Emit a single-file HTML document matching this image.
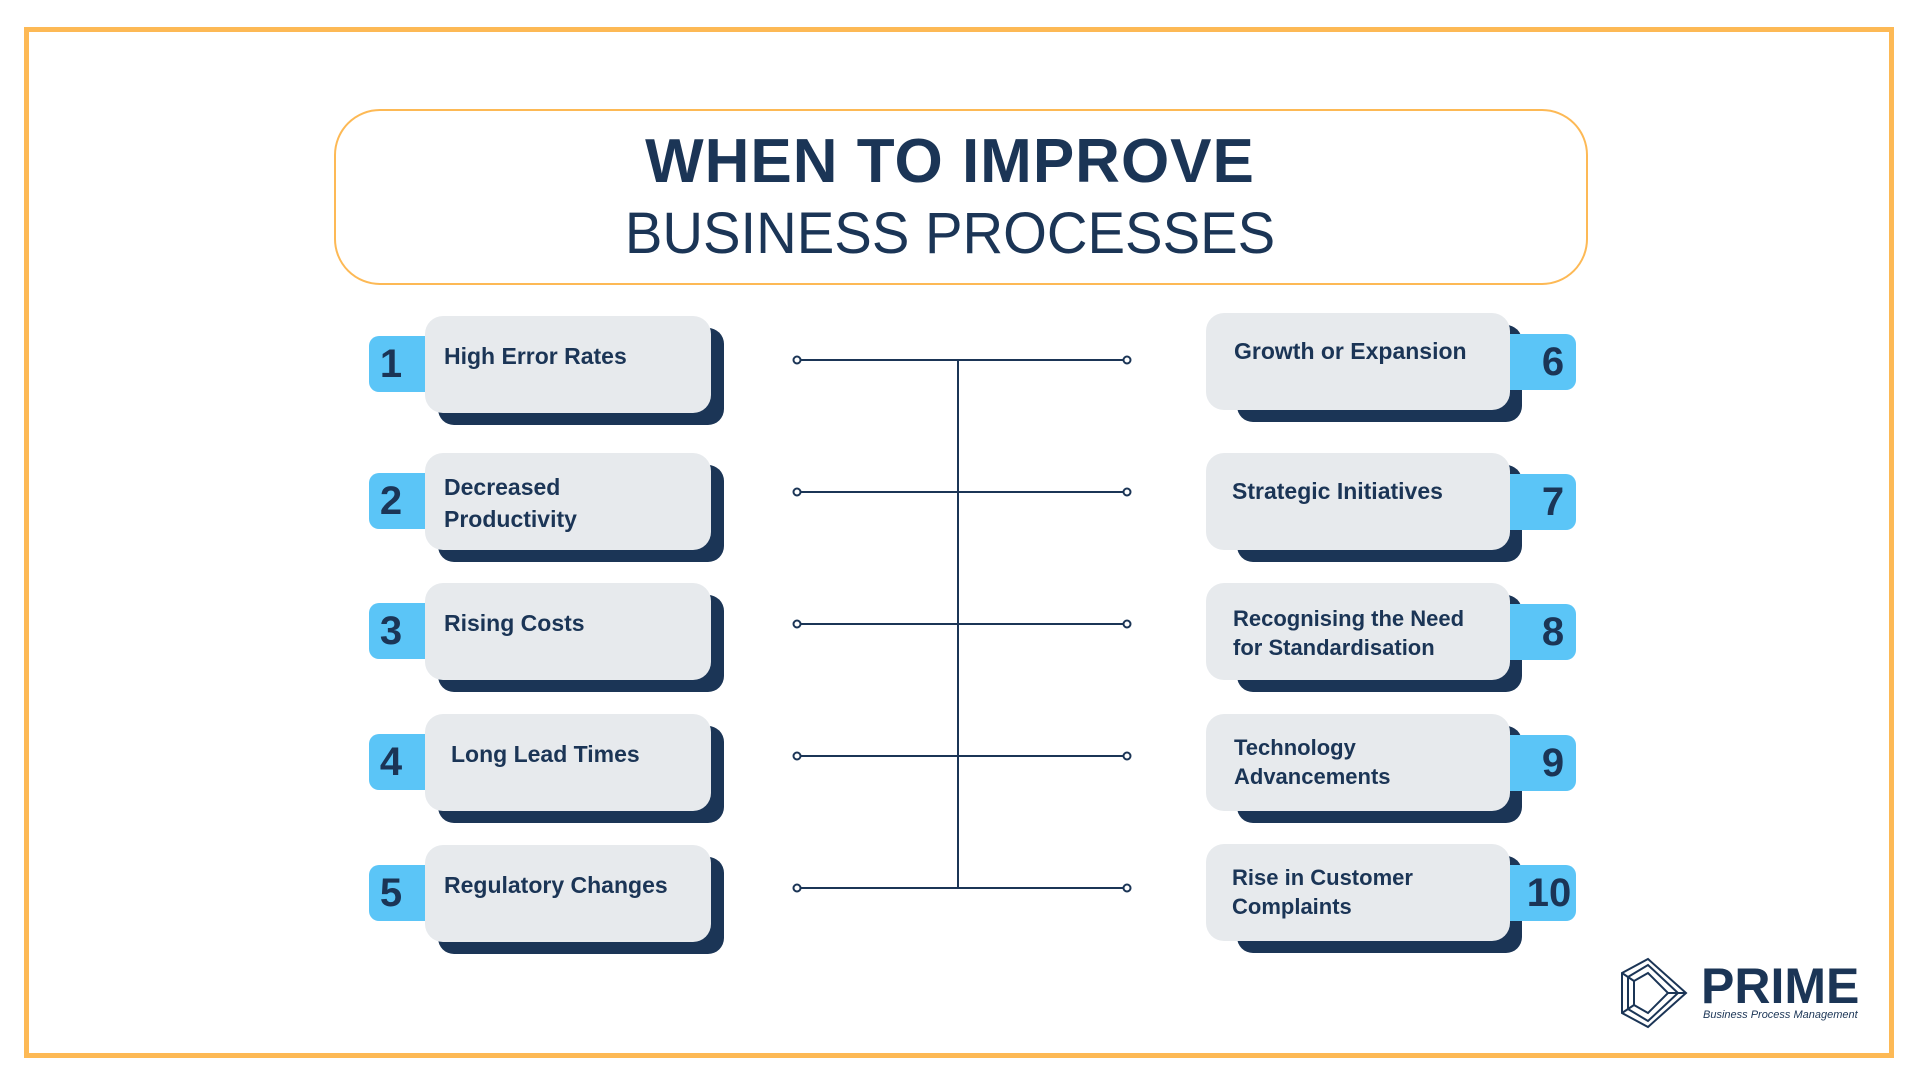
<!DOCTYPE html>
<html><head><style>
body{margin:0;width:1920px;height:1080px;background:#fff;position:relative;overflow:hidden;font-family:"Liberation Sans",sans-serif;color:#1b3556}
.a{position:absolute}
.frame{left:24px;top:27px;width:1860px;height:1021px;border:5px solid #fdb955}
.tbox{left:334px;top:109px;width:1250px;height:172px;border:2px solid #fdb955;border-radius:46px}
.t1{left:323px;width:1254px;top:126px;text-align:center;font-size:62px;font-weight:bold;letter-spacing:1px}
.t2{left:323px;width:1254px;top:200px;text-align:center;font-size:58px;font-weight:normal;transform:scaleX(0.97)}
.sh{background:#1b3556;border-radius:16px}
.card{background:#e7eaed;border-radius:18px;font-size:23px;font-weight:bold;line-height:32px;box-sizing:border-box;padding-top:24px}
.tab{background:#5bc5f7;font-size:40px;font-weight:bold;display:flex;align-items:center;justify-content:center;box-sizing:border-box}
.L .tab{border-radius:10px 0 0 10px;padding-right:14px}
.R .tab{border-radius:0 10px 10px 0;padding-left:22px}
</style></head><body>
<div class="a frame"></div>
<div class="a tbox"></div>
<div class="a t1">WHEN TO IMPROVE</div>
<div class="a t2">BUSINESS PROCESSES</div>

<svg class="a" style="left:0;top:0" width="1920" height="1080">
<g stroke="#1b3556" stroke-width="2" fill="#fff">
<line x1="958" y1="360" x2="958" y2="888"/>
<line x1="797" y1="360" x2="1127" y2="360"/>
<line x1="797" y1="492" x2="1127" y2="492"/>
<line x1="797" y1="624" x2="1127" y2="624"/>
<line x1="797" y1="756" x2="1127" y2="756"/>
<line x1="797" y1="888" x2="1127" y2="888"/>
<circle cx="797" cy="360" r="3.5"/><circle cx="1127" cy="360" r="3.5"/>
<circle cx="797" cy="492" r="3.5"/><circle cx="1127" cy="492" r="3.5"/>
<circle cx="797" cy="624" r="3.5"/><circle cx="1127" cy="624" r="3.5"/>
<circle cx="797" cy="756" r="3.5"/><circle cx="1127" cy="756" r="3.5"/>
<circle cx="797" cy="888" r="3.5"/><circle cx="1127" cy="888" r="3.5"/>
</g></svg>

<div class="L">
<div class="a sh" style="left:438px;top:328px;width:286px;height:97px"></div>
<div class="a tab" style="left:369px;top:336px;width:58px;height:56px">1</div>
<div class="a card" style="left:425px;top:316px;width:286px;height:97px;padding-left:19px">High Error Rates</div>

<div class="a sh" style="left:438px;top:465px;width:286px;height:97px"></div>
<div class="a tab" style="left:369px;top:473px;width:58px;height:56px">2</div>
<div class="a card" style="left:425px;top:453px;width:286px;height:97px;padding-left:19px;padding-top:18px">Decreased<br>Productivity</div>

<div class="a sh" style="left:438px;top:595px;width:286px;height:97px"></div>
<div class="a tab" style="left:369px;top:603px;width:58px;height:56px">3</div>
<div class="a card" style="left:425px;top:583px;width:286px;height:97px;padding-left:19px">Rising Costs</div>

<div class="a sh" style="left:438px;top:726px;width:286px;height:97px"></div>
<div class="a tab" style="left:369px;top:734px;width:58px;height:56px">4</div>
<div class="a card" style="left:425px;top:714px;width:286px;height:97px;padding-left:26px">Long Lead Times</div>

<div class="a sh" style="left:438px;top:857px;width:286px;height:97px"></div>
<div class="a tab" style="left:369px;top:865px;width:58px;height:56px">5</div>
<div class="a card" style="left:425px;top:845px;width:286px;height:97px;padding-left:19px">Regulatory Changes</div>
</div>

<div class="R">
<div class="a sh" style="left:1237px;top:325px;width:285px;height:97px"></div>
<div class="a tab" style="left:1508px;top:334px;width:68px;height:56px">6</div>
<div class="a card" style="left:1206px;top:313px;width:304px;height:97px;padding-left:28px;padding-top:22px">Growth or Expansion</div>

<div class="a sh" style="left:1237px;top:465px;width:285px;height:97px"></div>
<div class="a tab" style="left:1508px;top:474px;width:68px;height:56px">7</div>
<div class="a card" style="left:1206px;top:453px;width:304px;height:97px;padding-left:26px;padding-top:22px">Strategic Initiatives</div>

<div class="a sh" style="left:1237px;top:595px;width:285px;height:97px"></div>
<div class="a tab" style="left:1508px;top:604px;width:68px;height:56px">8</div>
<div class="a card" style="left:1206px;top:583px;width:304px;height:97px;padding-left:27px;padding-top:21px;line-height:29px;font-size:22px">Recognising the Need<br>for Standardisation</div>

<div class="a sh" style="left:1237px;top:726px;width:285px;height:97px"></div>
<div class="a tab" style="left:1508px;top:735px;width:68px;height:56px">9</div>
<div class="a card" style="left:1206px;top:714px;width:304px;height:97px;padding-left:28px;padding-top:19px;line-height:29px;font-size:22px">Technology<br>Advancements</div>

<div class="a sh" style="left:1237px;top:856px;width:285px;height:97px"></div>
<div class="a tab" style="left:1508px;top:865px;width:68px;height:56px;padding-left:14px">10</div>
<div class="a card" style="left:1206px;top:844px;width:304px;height:97px;padding-left:26px;padding-top:19px;line-height:29px;font-size:22px">Rise in Customer<br>Complaints</div>
</div>

<svg class="a" style="left:1618px;top:955px" width="72" height="76" viewBox="0 0 72 76">
<g fill="none" stroke="#1b3556" stroke-width="2">
<path d="M4 18 L30 4 L68 38 L30 72 L4 58 Z"/>
<path d="M10 22 L30 10 L60 38 L30 66 L10 54 Z"/>
<path d="M16 26 L30 18 L50 38 L30 58 L16 50 Z"/>
<path d="M4 18 L16 26 M4 58 L16 50 M68 38 L50 38"/>
</g></svg>
<div class="a" style="left:1701px;top:957px;font-size:50px;font-weight:bold">PRIME</div>
<div class="a" style="left:1703px;top:1009px;font-size:11px;font-style:italic">Business Process Management</div>
</body></html>
